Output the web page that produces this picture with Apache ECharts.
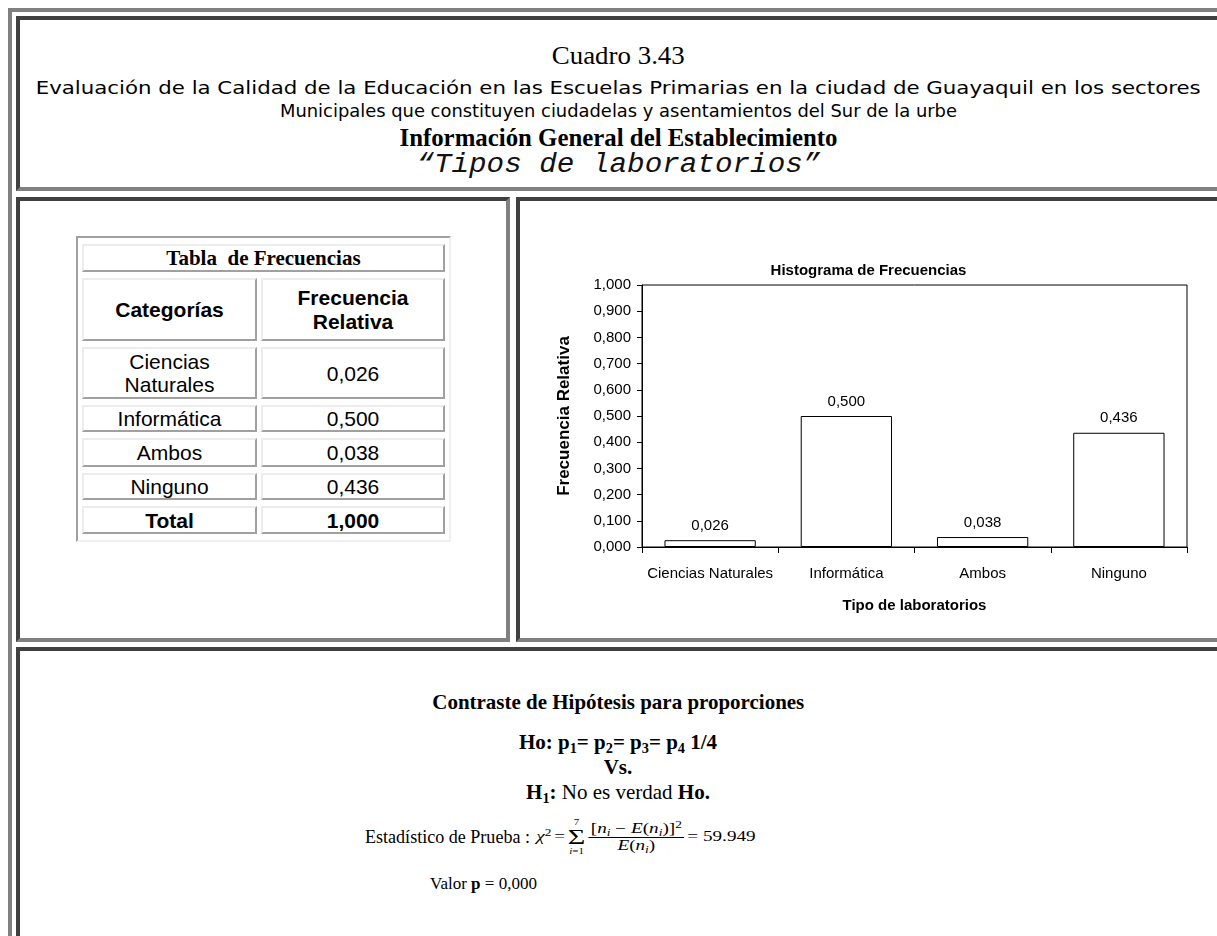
<!DOCTYPE html>
<html><head><meta charset="utf-8">
<script src="https://cdn.jsdelivr.net/npm/echarts@6/dist/echarts.min.js"></script>
<style>
html,body{margin:0;padding:0;background:#fff;overflow:hidden;width:1217px;height:936px}
.bx{position:absolute;box-sizing:border-box}
.cell{border-top:4px solid #404040;border-left:4px solid #404040;border-bottom:4px solid #808080;border-right:4px solid #808080}
.ln{position:absolute;left:16px;width:1204px;text-align:center;white-space:nowrap;color:#000}
.ln span.f{display:inline-block;transform-origin:50% 50%}
.serif{font-family:'Liberation Serif','Times New Roman',serif}
#ft{position:absolute;left:76px;top:236px;border-collapse:separate;border-spacing:4px 6px;
 border-top:2px solid #a0a0a0;border-left:2px solid #a0a0a0;border-bottom:2px solid #f0f0f0;border-right:2px solid #f0f0f0;
 font-family:'Liberation Sans',Arial,sans-serif;color:#000}
#ft td{box-sizing:border-box;border-top:2px solid #ececec;border-left:2px solid #ececec;border-bottom:2px solid #a0a0a0;border-right:2px solid #a0a0a0;
 text-align:center;vertical-align:middle;padding:0;font-size:21px;line-height:23px}
#ft td.c1{width:175px}
#ft td.c2{width:184px}
#ft td.ttl{font-family:'Liberation Serif','Times New Roman',serif;font-weight:bold;font-size:21px}
sub.s{font-size:0.68em;vertical-align:-0.25em;line-height:0}
.stat{position:absolute;display:flex;align-items:center;white-space:nowrap;font-family:'Liberation Serif','Times New Roman',serif;color:#000}
.stat .f{display:inline-block;transform-origin:0 50%}
.eq{display:inline-flex !important;align-items:center;font-size:14px;line-height:16px}
.eq > span{margin:0 1px}
.sum{display:inline-flex;flex-direction:column;align-items:center}
.sig{font-size:22px;line-height:20px}
.lim{font-size:8px;line-height:9px}
.frac{display:inline-flex;flex-direction:column;align-items:center;line-height:16px}
.num{border-bottom:1px solid #000;padding:0 2px}
.eq sub{font-size:0.7em;vertical-align:-0.3em;line-height:0}
.eq sup{font-size:0.7em;vertical-align:0.5em;line-height:0}
</style></head>
<body>
<!-- outer table border -->
<div class="bx" style="left:8px;top:8px;width:1400px;height:1100px;border-top:4px solid #808080;border-left:4px solid #808080"></div>
<!-- cells -->
<div class="bx cell" style="left:16px;top:16px;width:1206px;height:175px"></div>
<div class="bx cell" style="left:16px;top:197px;width:494px;height:445px"></div>
<div class="bx cell" style="left:516px;top:197px;width:800px;height:445px"></div>
<div class="bx cell" style="left:16px;top:647px;width:1206px;height:400px"></div>

<!-- header texts -->
<div class="ln serif" style="top:41px;font-size:26px;line-height:30px"><span class="f" data-w="133">Cuadro 3.43</span></div>
<div class="ln" style="top:77px;font-family:'DejaVu Sans',sans-serif;font-size:18px;line-height:22px"><span class="f" data-w="1165">Evaluación de la Calidad de la Educación en las Escuelas Primarias en la ciudad de Guayaquil en los sectores</span></div>
<div class="ln" style="top:100px;font-family:'DejaVu Sans',sans-serif;font-size:18px;line-height:22px"><span class="f" data-w="677">Municipales que constituyen ciudadelas y asentamientos del Sur de la urbe</span></div>
<div class="ln serif" style="top:124px;font-size:25px;line-height:28px;font-weight:bold"><span class="f" data-w="438">Información General del Establecimiento</span></div>
<div class="ln" style="top:150px;font-family:'Liberation Mono','Courier New',monospace;font-style:italic;font-size:27px;line-height:30px;color:#111"><span class="f" data-w="404">“Tipos de laboratorios”</span></div>

<!-- frequency table -->
<table id="ft"><tbody id="ftb"></tbody></table>

<!-- chart -->
<div id="chart" style="position:absolute;left:520px;top:201px;width:697px;height:437px"></div>

<!-- bottom texts -->
<div class="ln serif" style="top:690px;font-size:21px;line-height:24px;font-weight:bold"><span class="f" data-w="372">Contraste de Hipótesis para proporciones</span></div>
<div class="ln serif" style="top:730px;font-size:21px;line-height:24px;font-weight:bold"><span class="f">Ho: p<sub class="s">1</sub>= p<sub class="s">2</sub>= p<sub class="s">3</sub>= p<sub class="s">4</sub> 1/4</span></div>
<div class="ln serif" style="top:755px;font-size:21px;line-height:24px;font-weight:bold"><span class="f">Vs.</span></div>
<div class="ln serif" style="top:780px;font-size:21px;line-height:24px"><span class="f"><b>H<sub class="s">1</sub>:</b> No es verdad <b>Ho.</b></span></div>
<div class="stat" style="left:365px;top:815px;height:44px">
  <span class="f" data-w="165" style="font-size:18px">Estadístico de Prueba :</span>
</div>
<div class="stat" style="left:535px;top:815px;height:44px">
  <span class="f eq" data-w="222">
    <span><i>χ</i><sup>2</sup></span>
    <span>=</span>
    <span class="sum"><span class="lim">7</span><span class="sig">Σ</span><span class="lim"><i>i</i>=1</span></span>
    <span class="frac"><span class="num">[<i>n<sub>i</sub></i> − <i>E</i>(<i>n<sub>i</sub></i>)]<sup>2</sup></span><span class="den"><i>E</i>(<i>n<sub>i</sub></i>)</span></span>
    <span>= 59.949</span>
  </span>
</div>
<div class="stat" style="left:430px;top:873px;height:22px">
  <span class="f" data-w="107" style="font-size:17px">Valor <b>p</b> = 0,000</span>
</div>

<script>
// ---- data ----
const categories = ['Ciencias Naturales', 'Informática', 'Ambos', 'Ninguno'];
const tableCategories = ['Ciencias<br>Naturales', 'Informática', 'Ambos', 'Ninguno'];
const relFreq = [0.026, 0.500, 0.038, 0.436];
const yTickLabels = ['0,000','0,100','0,200','0,300','0,400','0,500','0,600','0,700','0,800','0,900','1,000'];
const totalValue = 1.000;

const fmt = v => v.toFixed(3).replace('.', ',');

// ---- table ----
const rowH = [52, 27, 29, 27];
let html = '<tr><td class="ttl" colspan="2" style="height:28px">Tabla&nbsp; de Frecuencias</td></tr>';
html += '<tr><td class="c1" style="height:63px;font-weight:bold">Categorías</td><td class="c2" style="height:63px;font-weight:bold;line-height:24px">Frecuencia<br>Relativa</td></tr>';
tableCategories.forEach((c, i) => {
  html += '<tr><td class="c1" style="height:' + rowH[i] + 'px">' + c + '</td><td class="c2" style="height:' + rowH[i] + 'px">' + fmt(relFreq[i]) + '</td></tr>';
});
html += '<tr><td class="c1" style="height:28px;font-weight:bold">Total</td><td class="c2" style="height:28px;font-weight:bold">' + fmt(totalValue) + '</td></tr>';
document.getElementById('ftb').innerHTML = html;

// fit text lines to their widths in the reference
document.querySelectorAll('[data-w]').forEach(el => {
  const w = el.getBoundingClientRect().width;
  el.style.transform = 'scaleX(' + (+el.dataset.w / w) + ')';
});

// ---- chart ----
const FF = "'Liberation Sans', Arial, sans-serif";
const chart = echarts.init(document.getElementById('chart'), null, { renderer: 'canvas' });
chart.setOption({
  animation: false,
  title: {
    text: 'Histograma de Frecuencias', left: 'center', top: 57,
    textStyle: { fontFamily: FF, fontWeight: 'bold', fontSize: 15, color: '#000' }
  },
  grid: { left: 122, top: 84, width: 545, height: 262, show: true, borderColor: '#000', borderWidth: 1 },
  xAxis: {
    type: 'category', data: categories,
    name: 'Tipo de laboratorios', nameLocation: 'middle', nameGap: 51,
    nameTextStyle: { fontFamily: FF, fontWeight: 'bold', fontSize: 15, color: '#000' },
    axisLine: { lineStyle: { color: '#000', width: 1 } },
    axisTick: { show: true, interval: 0, length: 6, alignWithLabel: false, lineStyle: { color: '#000' } },
    axisLabel: { interval: 0, margin: 19, color: '#000', fontSize: 15, fontFamily: FF }
  },
  yAxis: {
    type: 'value', min: 0, max: 1, interval: 0.1,
    name: 'Frecuencia Relativa', nameLocation: 'middle', nameGap: 69,
    nameTextStyle: { fontFamily: FF, fontWeight: 'bold', fontSize: 17, color: '#000' },
    axisLine: { show: true, lineStyle: { color: '#000', width: 1 } },
    axisTick: { show: true, length: 5, lineStyle: { color: '#000' } },
    splitLine: { show: false },
    axisLabel: { margin: 11, color: '#000', fontSize: 15, fontFamily: FF,
      formatter: v => yTickLabels[Math.round(v * 10)] }
  },
  series: [{
    type: 'bar', data: relFreq, barWidth: '67%',
    itemStyle: { color: '#fff', borderColor: '#000', borderWidth: 1 },
    label: { show: true, position: 'top', distance: 7, color: '#000', fontSize: 15, fontFamily: FF,
      formatter: p => fmt(p.value) }
  }]
});
</script>
</body></html>
